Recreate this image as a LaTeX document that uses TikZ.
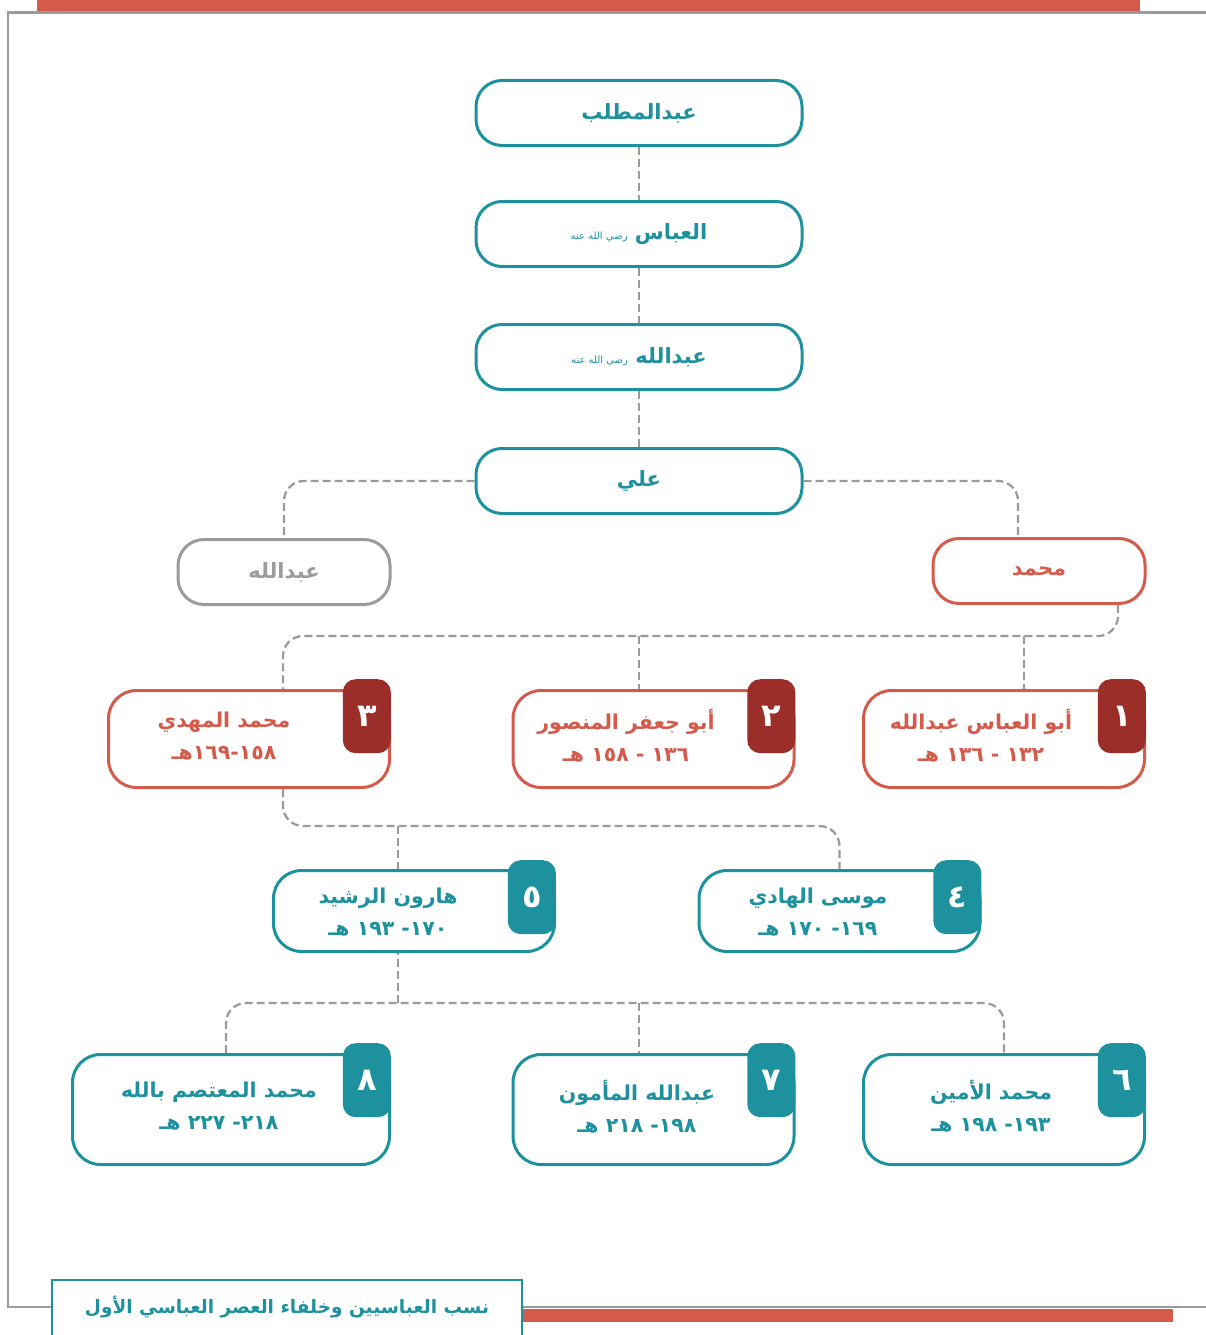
\documentclass[tikz,border=0pt]{standalone}
\usepackage{fontspec}
\newfontfamily\arabicfont[Script=Arabic]{DejaVu Sans}
\TeXXeTstate=1
\usetikzlibrary{positioning}
\definecolor{abbteal}{HTML}{1E919E}
\definecolor{abbred}{HTML}{D45B4B}
\definecolor{abbdark}{HTML}{9B2E28}
\definecolor{abbgray}{HTML}{9B9B9B}
\newcommand\ar[1]{\beginR #1\endR}
\newcommand\radi{{\fontsize{10}{10}\selectfont\mdseries رضي الله عنه}}
\tikzset{
  anc/.style={draw=abbteal, line width=3pt, rounded corners=26pt, fill=white,
    minimum width=326pt, minimum height=65pt, text=abbteal,
    font=\arabicfont\bfseries\fontsize{21}{24}\selectfont},
  son/.style={anc, minimum width=212pt},
  caliph/.style={draw=#1, line width=3pt, rounded corners=28pt, fill=white,
    minimum width=281pt},
  badge/.style={fill=#1, rounded corners=13pt, minimum width=48pt, minimum height=74pt,
    anchor=north east, text=white, inner sep=0pt,
    font=\arabicfont\bfseries\fontsize{32}{32}\selectfont},
  lbl/.style={align=center, text=#1, inner sep=0pt,
    font=\arabicfont\bfseries\fontsize{20.5}{32}\selectfont},
  link/.style={draw=abbgray, line width=2.3pt, dash pattern=on 8pt off 4pt, rounded corners=20pt},
}
\begin{document}
\begin{tikzpicture}[x=1pt,y=-1pt]
  \useasboundingbox (0,0) rectangle (1206,1335);
  % frame
  \fill[abbred] (37,0) rectangle (1140,11);
  \draw[abbgray, line width=2.5pt] (1206,12.5) -- (8,12.5) -- (8,1307) -- (1206,1307);
  \fill[abbred] (522,1309) rectangle (1173,1322);

  % ancestors
  \node[anc] (mut) at (639,113)               {\ar{عبدالمطلب}};
  \node[anc] (abb) at ([shift={(0,121)}] mut) {\ar{العباس \radi}};
  \node[anc] (abd) at ([shift={(0,123)}] abb) {\ar{عبدالله \radi}};
  \node[anc] (ali) at ([shift={(0,124)}] abd) {\ar{علي}};
  \node[son, draw=abbgray, text=abbgray] (abg) at (284,572)  {\ar{عبدالله}};
  \node[son, draw=abbred, text=abbred]   (muh) at (1039,571) {\ar{محمد}};

  % first caliphs
  \node[caliph=abbred, minimum height=97pt] (b3) at (249,739) {};
  \node[caliph=abbred, minimum height=97pt] (b2) at ([shift={(404.5,0)}] b3) {};
  \node[caliph=abbred, minimum height=97pt] (b1) at ([shift={(350.5,0)}] b2) {};
  \node[caliph=abbteal, minimum height=81pt] (b5) at (414,911) {};
  \node[caliph=abbteal, minimum height=81pt] (b4) at ([shift={(425.5,0)}] b5) {};
  \node[caliph=abbteal, minimum height=110pt, minimum width=317pt] (b8) at (231,1109.5) {};
  \node[caliph=abbteal, minimum height=110pt] (b7) at (653.5,1109.5) {};
  \node[caliph=abbteal, minimum height=110pt] (b6) at ([shift={(350.5,0)}] b7) {};

  % badges
  \node[badge=abbdark]  (n3) at ([shift={(0,-10)}] b3.north east) {٣};
  \node[badge=abbdark]  (n2) at ([shift={(0,-10)}] b2.north east) {٢};
  \node[badge=abbdark]  (n1) at ([shift={(0,-10)}] b1.north east) {١};
  \node[badge=abbteal]  (n5) at ([shift={(0,-9)}]  b5.north east) {٥};
  \node[badge=abbteal]  (n4) at ([shift={(0,-9)}]  b4.north east) {٤};
  \node[badge=abbteal]  (n8) at ([shift={(0,-10)}] b8.north east) {٨};
  \node[badge=abbteal]  (n7) at ([shift={(0,-10)}] b7.north east) {٧};
  \node[badge=abbteal]  (n6) at ([shift={(0,-10)}] b6.north east) {٦};

  % names and years
  \node[lbl=abbred]  (t3) at ([shift={(-25,-3)}]   b3) {\ar{محمد المهدي}\\\ar{١٥٨-١٦٩هـ}};
  \node[lbl=abbred]  (t2) at ([shift={(-27.5,-3)}] b2) {\ar{أبو جعفر المنصور}\\\ar{١٣٦ - ١٥٨ هـ}};
  \node[lbl=abbred]  (t1) at ([shift={(-23,-3)}]   b1) {\ar{أبو العباس عبدالله}\\\ar{١٣٢ - ١٣٦ هـ}};
  \node[lbl=abbteal] (t5) at ([shift={(-26,1)}]    b5) {\ar{هارون الرشيد}\\\ar{١٧٠- ١٩٣ هـ}};
  \node[lbl=abbteal] (t4) at ([shift={(-21.5,1)}]  b4) {\ar{موسى الهادي}\\\ar{١٦٩- ١٧٠ هـ}};
  \node[lbl=abbteal] (t8) at ([shift={(-12,-3)}]   b8) {\ar{محمد المعتصم بالله}\\\ar{٢١٨- ٢٢٧ هـ}};
  \node[lbl=abbteal] (t7) at ([shift={(-16.5,-3)}] b7) {\ar{عبدالله المأمون}\\\ar{١٩٨- ٢١٨ هـ}};
  \node[lbl=abbteal] (t6) at ([shift={(-13,-3)}]   b6) {\ar{محمد الأمين}\\\ar{١٩٣- ١٩٨ هـ}};

  % lineage
  \draw[link] (mut) -- (abb);
  \draw[link] (abb) -- (abd);
  \draw[link] (abd) -- (ali);
  \draw[link] (ali.west) -| (abg.north);
  \draw[link] (ali.east) -| ([xshift=-21] muh.north);
  \coordinate (bus1) at (639,636);
  \coordinate (bus2) at (560,826);
  \coordinate (bus3) at (639,1003);
  \draw[link] ([xshift=79] muh.south) |- (bus1) -| ([xshift=34] b3.north);
  \draw[link] (bus1) -- (bus1 |- b2.north);
  \coordinate (j1) at (1024,636);
  \draw[link] (j1) -- (j1 |- b1.north);
  \draw[link] ([xshift=34] b3.south) |- (bus2) -| (b4.north);
  \coordinate (j5) at (398,826);
  \draw[link] (j5) -- (j5 |- b5.north);
  \draw[link] ([xshift=-5] b8.north) |- (bus3) -| (b6.north);
  \draw[link] (bus3) -- (bus3 |- b7.north);
  \coordinate (j5b) at (398,1003);
  \draw[link] (j5b) -- (j5b |- b5.south);

  % caption
  \draw[abbteal, line width=2.5pt, fill=white] (52,1280) rectangle (522,1345);
  \node[text=abbteal, font=\arabicfont\bfseries\fontsize{18.5}{20}\selectfont] (cap) at (287,1307)
    {\ar{نسب العباسيين وخلفاء العصر العباسي الأول}};
\end{tikzpicture}
\end{document}
